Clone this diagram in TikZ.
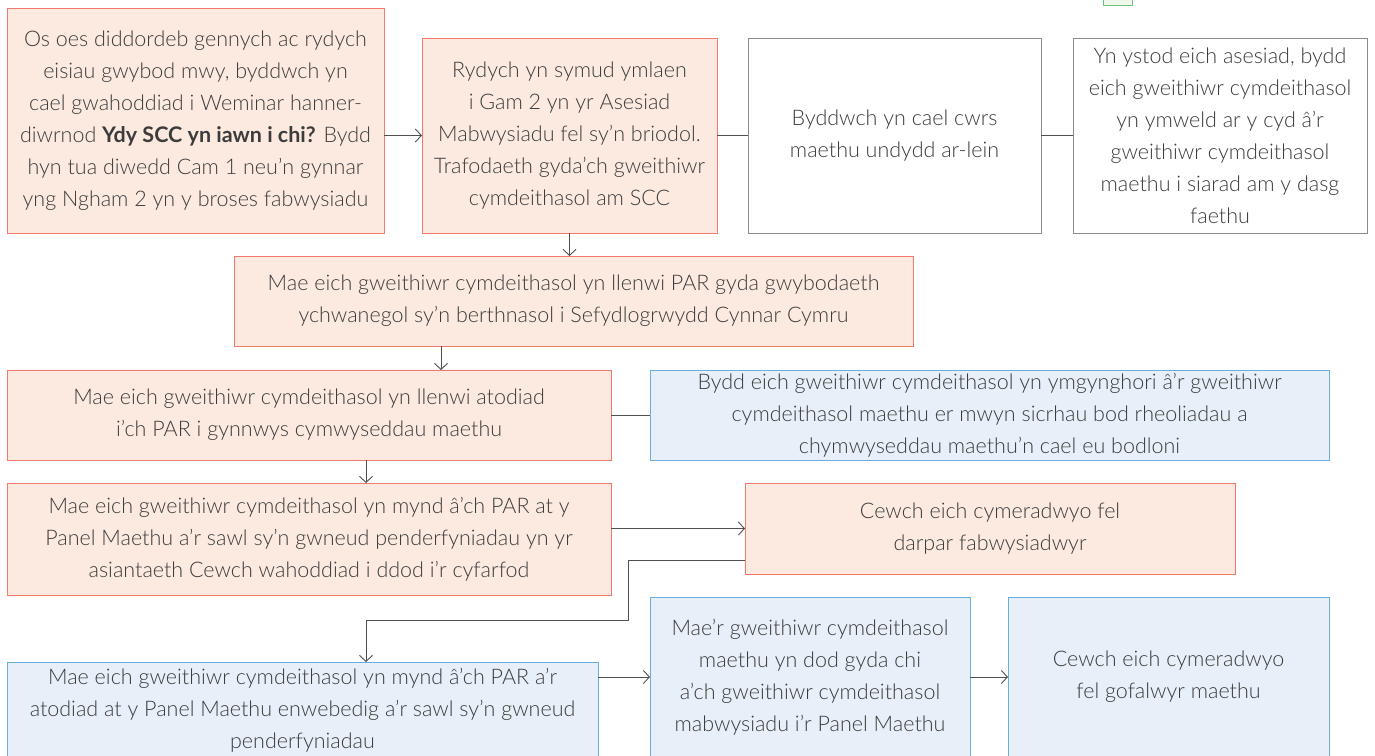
\documentclass[tikz,border=0pt]{standalone}
\usepackage{fontspec}
\setmainfont{Lato}[UprightFont=* Light, BoldFont=* Bold]
\usepackage{tikz}
\usepackage{xcolor}
\usetikzlibrary{positioning, arrows.meta, calc}
\definecolor{SCC_Salmon}{HTML}{F2796E}
\definecolor{SCC_SalmonFill}{HTML}{FCEAE1}
\definecolor{SCC_Blue}{HTML}{6AAEE0}
\definecolor{SCC_BlueFill}{HTML}{E7F0F8}
\definecolor{SCC_Grey}{HTML}{8C8C8C}
\definecolor{SCC_Text}{HTML}{3C3C3C}
\definecolor{SCC_Green}{HTML}{6CC57A}
\definecolor{SCC_GreenFill}{HTML}{EEF7EA}

\begin{document}
\begin{tikzpicture}[
  x=1pt, y=-1pt,
  every node/.style={font=\fontsize{21.5}{32}\selectfont, text=SCC_Text, inner sep=0pt, outer sep=0pt},
  pbox/.style={draw, line width=1pt, align=center},
  sbox/.style={pbox, draw=SCC_Salmon, fill=SCC_SalmonFill},
  bbox/.style={pbox, draw=SCC_Blue, fill=SCC_BlueFill},
  wbox/.style={pbox, draw=SCC_Grey, fill=white},
  arr/.style={-{Straight Barb[length=6pt, width=13pt]}, line width=0.9pt, SCC_Text!90},
  lnk/.style={line width=0.9pt, SCC_Text!90}
]
  \useasboundingbox (0,0) rectangle (1375,755);
  \clip (0,0) rectangle (1375,755);

  % Key (cut off at top)
  \node[draw=SCC_Green, fill=SCC_GreenFill, line width=1pt, minimum width=29pt, minimum height=20pt] (key) at (1118,-5) {};

  % Row 1
  \node[sbox, minimum width=377pt, minimum height=225pt] (webinar) at (195.5,120.5)
    {Os oes diddordeb gennych ac rydych\\ eisiau gwybod mwy, byddwch yn\\ cael gwahoddiad i Weminar hanner-\\ diwrnod \textbf{Ydy SCC yn iawn i chi?} Bydd\\ hyn tua diwedd Cam 1 neu’n gynnar\\ yng Ngham 2 yn y broses fabwysiadu};
  \node[sbox, minimum width=295pt, minimum height=195pt] (gam) at (569.5,135.5)
    {Rydych yn symud ymlaen\\ i Gam 2 yn yr Asesiad\\ Mabwysiadu fel sy’n briodol.\\ Trafodaeth gyda’ch gweithiwr\\ cymdeithasol am SCC};
  \node[wbox, minimum width=293pt, minimum height=195pt] (cwrs) at (894.5,135.5)
    {Byddwch yn cael cwrs\\ maethu undydd ar-lein};
  \node[wbox, minimum width=294pt, minimum height=195pt] (ymweld) at (1220,135.5)
    {Yn ystod eich asesiad, bydd\\ eich gweithiwr cymdeithasol\\ yn ymweld ar y cyd â’r\\ gweithiwr cymdeithasol\\ maethu i siarad am y dasg\\ faethu};

  % Row 2
  \node[sbox, minimum width=679pt, minimum height=90pt] (par) at (573.5,301)
    {Mae eich gweithiwr cymdeithasol yn llenwi PAR gyda gwybodaeth\\ ychwanegol sy’n berthnasol i Sefydlogrwydd Cynnar Cymru};

  % Row 3
  \node[sbox, minimum width=604pt, minimum height=90pt] (atodiad) at (309,415)
    {Mae eich gweithiwr cymdeithasol yn llenwi atodiad\\ i’ch PAR i gynnwys cymwyseddau maethu};
  \node[bbox, minimum width=679pt, minimum height=90pt] (ymgynghori) at (989.5,415)
    {Bydd eich gweithiwr cymdeithasol yn ymgynghori â’r gweithiwr\\ cymdeithasol maethu er mwyn sicrhau bod rheoliadau a\\ chymwyseddau maethu’n cael eu bodloni};

  % Row 4
  \node[sbox, minimum width=604pt, minimum height=112pt] (panel) at (309,539)
    {Mae eich gweithiwr cymdeithasol yn mynd â’ch PAR at y\\ Panel Maethu a’r sawl sy’n gwneud penderfyniadau yn yr\\ asiantaeth Cewch wahoddiad i ddod i’r cyfarfod};
  \node[sbox, minimum width=490pt, minimum height=91pt] (darpar) at (990,528.5)
    {Cewch eich cymeradwyo fel\\ darpar fabwysiadwyr};

  % Row 5
  \node[bbox, minimum width=591pt, minimum height=96pt] (enwebedig) at (302.5,710)
    {Mae eich gweithiwr cymdeithasol yn mynd â’ch PAR a’r\\ atodiad at y Panel Maethu enwebedig a’r sawl sy’n gwneud\\ penderfyniadau};
  \node[bbox, minimum width=320pt, minimum height=160pt] (gydachi) at (810,677)
    {Mae’r gweithiwr cymdeithasol\\ maethu yn dod gyda chi\\ a’ch gweithiwr cymdeithasol\\ mabwysiadu i’r Panel Maethu};
  \node[bbox, minimum width=321pt, minimum height=160pt] (gofalwyr) at (1168.5,677)
    {Cewch eich cymeradwyo\\ fel gofalwyr maethu};

  % Connections
  \draw[arr] (webinar.east |- gam.west) -- (gam.west);
  \draw[lnk] (gam.east) -- (cwrs.west);
  \draw[lnk] (cwrs.east) -- (ymweld.west);
  \draw[arr] (gam.south) -- (gam.south |- par.north);
  \draw[arr] ([xshift=207pt]par.south west) -- ([xshift=207pt]par.south west |- atodiad.north);
  \draw[lnk] (atodiad.east |- ymgynghori.west) -- (ymgynghori.west);
  \draw[arr] ([xshift=57pt]atodiad.south) -- ([xshift=57pt]atodiad.south |- panel.north);
  \draw[arr] (panel.east |- darpar.west) -- (darpar.west);
  \coordinate (elbow) at (628,620);
  \draw[arr] ([yshift=-31.5pt]darpar.west) -| (elbow) -| ([xshift=63.5pt]enwebedig.north);
  \draw[arr] (enwebedig.east |- gydachi.west) -- (gydachi.west);
  \draw[arr] (gydachi.east) -- (gofalwyr.west);
\end{tikzpicture}
\end{document}
